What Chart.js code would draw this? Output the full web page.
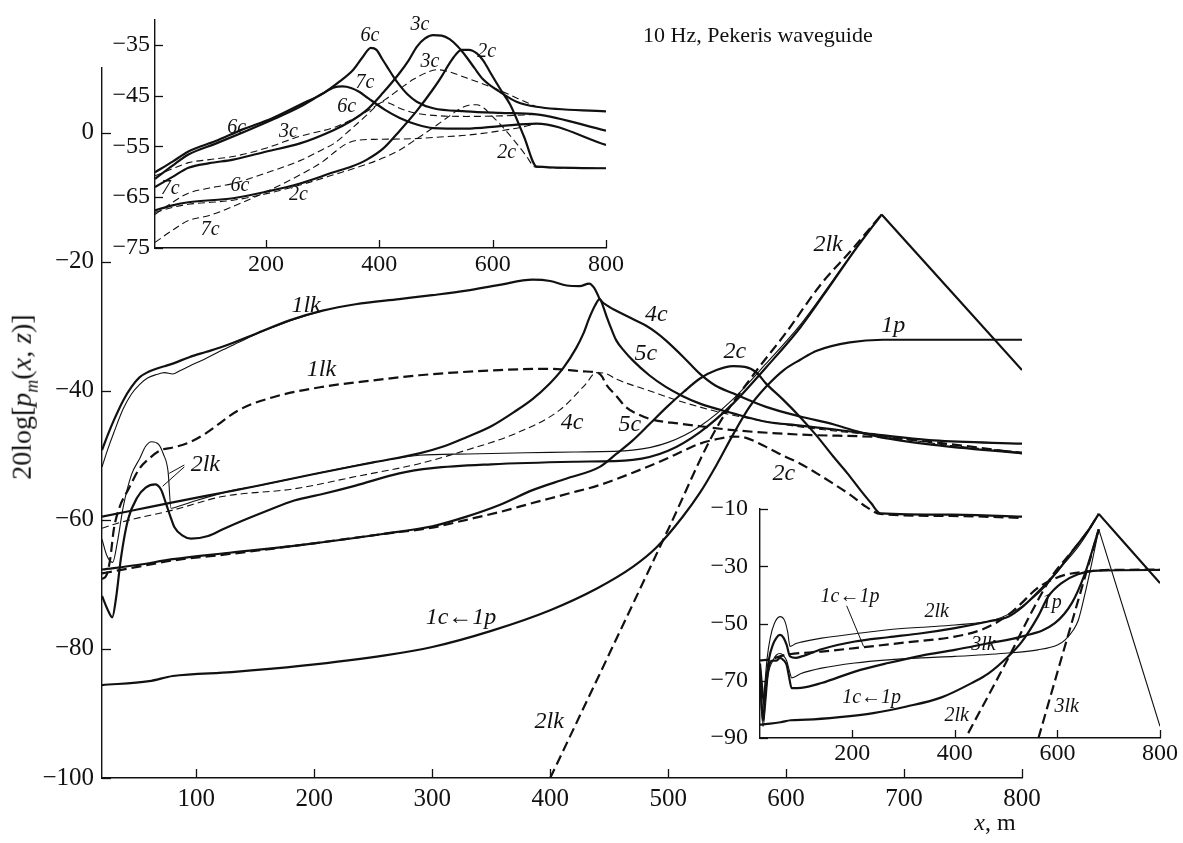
<!DOCTYPE html>
<html>
<head>
<meta charset="utf-8">
<script src="https://cdn.jsdelivr.net/npm/chart.js@4.4.1/dist/chart.umd.min.js"></script>
<style>
  body { margin: 0; background: #fff; width: 1183px; height: 843px; position: relative; overflow: hidden; font-family: "Liberation Serif", "DejaVu Serif", serif; }
  canvas { position: absolute; }
  #main { left: 0; top: 0; }
  #topInset { left: 0; top: 0; }
  #brInset { left: 700px; top: 480px; }
  .txt { position: absolute; color: #111; white-space: nowrap; line-height: 1; }
  #title { left: 643px; top: 24px; font-size: 22px; }
  #ylab { left: 24px; top: 397px; font-size: 28px; transform: translate(-50%, -50%) rotate(-90deg); }
  #ylab sub { font-size: 18px; }
  #xlab { left: 995px; top: 810px; font-size: 24px; transform: translateX(-50%); }
</style>
</head>
<body>
<canvas id="main" width="1183" height="843"></canvas>
<canvas id="topInset" width="640" height="290"></canvas>
<canvas id="brInset" width="483" height="300"></canvas>
<div class="txt" id="title">10 Hz, Pekeris waveguide</div>
<div class="txt" id="ylab">20log[<i>p<sub>m</sub></i>(<i>x</i>, <i>z</i>)]</div>
<div class="txt" id="xlab"><i>x</i>, m</div>
<script>
// ---- main plot: [x, dB] pairs ----
const mainXTicks = [100, 200, 300, 400, 500, 600, 700, 800];
const mainYTicks = [-100, -80, -60, -40, -20, 0];

const main1lk = [[20,-49.2],[25,-46.8],[30,-44.6],[38,-41.5],[45,-39.4],[52,-37.9],[59,-37.1],[66,-36.6],[73,-36.2],[80,-35.8],[94,-34.8],[108,-34],[122,-33.2],[150,-31.2],[179,-29.1],[207,-27.6],[235,-26.6],[272,-25.8],[300,-25.2],[329,-24.5],[357,-23.6],[385,-22.8],[400,-23],[414,-23.7],[425,-23.8],[433,-23.4],[437,-24],[440,-25],[442,-25.8],[450,-27],[456,-27.6],[470,-28.9],[481,-29.9],[490,-31],[498,-32.2],[513,-34.8],[527,-37.4],[540,-39.2],[555,-40.4],[583,-42.5],[612,-44],[640,-45.2],[660,-46.3],[680,-47.2],[725,-48.4],[800,-49.7]];
const main1lkThin = [[20,-51.8],[25,-49],[30,-46.5],[38,-42.8],[45,-40.5],[52,-39],[59,-38],[66,-37.5],[73,-37.2],[80,-37.4],[86,-36.9],[94,-36.2],[108,-35],[122,-33.7],[136,-32.5],[150,-31.3],[179,-29.2],[207,-27.6]];
const main5c = [[20,-59.5],[50,-58.4],[80,-57.3],[122,-55.8],[150,-54.8],[200,-52.9],[250,-51.1],[289,-49.7],[310,-48.6],[329,-47.2],[350,-45.5],[371,-43.1],[385,-41.3],[399,-39],[411,-36.5],[422,-33.4],[428,-31.2],[433,-28.8],[438,-26.8],[442,-25.8],[445,-27],[448,-28.6],[452,-30.5],[456,-32.2],[463,-33.9],[470,-35.3],[484,-37.6],[498,-39.4],[512,-40.8],[527,-42],[555,-43.5],[583,-44.8],[612,-45.4],[640,-46],[668,-46.6],[725,-47.7],[800,-48.2]];
const main2lkThin = [[20,-63],[24,-65.5],[29,-66.6],[33,-63.5],[38,-58],[45,-53],[52,-50.5],[57,-48.6],[62,-47.9],[68,-48.3],[72,-49.8],[76,-52.5],[78.5,-58.2],[85,-57.9],[100,-57],[132,-55.4],[150,-54.8],[200,-52.9],[250,-51.1],[289,-50],[330,-49.8],[380,-49.6],[420,-49.5],[470,-49.2],[500,-48],[527,-45.5],[555,-41.3],[583,-35.8],[612,-29.8],[640,-22.8],[660,-17.7],[681,-12.7]];
const main2lkThick = [[20,-71.8],[25,-74],[28.7,-75.1],[32,-72],[36,-66],[42,-60],[50,-56.5],[57,-55],[65,-54.5],[70,-55.3],[74.3,-57.5],[78,-59.5],[81.3,-61.1],[88,-62.4],[95.5,-62.9],[110,-62.5],[122,-61.5],[141,-60],[160,-58.6],[183,-57],[207,-56],[235,-54.7],[272,-52.8],[300,-52],[350,-51.4],[420,-51],[470,-50.7],[500,-49.3],[527,-46.4],[555,-42],[583,-36.4],[612,-30.2],[640,-23],[660,-17.8],[681,-12.7]];
const main2lkDown = [[681,-12.7],[800,-36.8]];
const main2c = [[20,-67.7],[50,-67],[80,-66.1],[128,-65.1],[193,-63.8],[258,-62.2],[300,-61],[329,-59.5],[357,-57.7],[385,-55.4],[414,-53.6],[442,-51.8],[456,-49.8],[470,-47.7],[484,-45.2],[499,-42.5],[513,-40.2],[527,-38.1],[541,-36.8],[555,-36.2],[565,-36.3],[575,-37.2],[583,-38.9],[597,-41.3],[612,-44.1],[626,-47],[640,-50.2],[652,-52.8],[663,-55.4],[672,-57.4],[680,-59],[740,-59.2],[800,-59.5]];
const main1c1p = [[20,-85.6],[60,-85],[80,-84.2],[130,-83.6],[190,-82.6],[260,-81],[300,-79.7],[350,-77.2],[400,-74],[440,-70.6],[470,-67.3],[490,-64.3],[512,-59.6],[527,-55.8],[541,-51.5],[555,-46.8],[569,-42.5],[583,-39.4],[598,-36.8],[612,-35.2],[626,-33.8],[654,-32.5],[682,-32.1],[800,-32.1]];
const main1lkDash = [[20,-69.2],[24,-68.5],[27,-66],[30,-61.5],[35,-58],[42,-55.4],[52,-52],[60,-50.5],[70,-49.2],[80,-48.8],[94,-48],[108,-46.6],[136,-43],[165,-41],[207,-39.4],[250,-38.4],[289,-37.6],[357,-36.8],[400,-36.6],[428,-37],[440,-37.2],[444,-37.8],[447,-38.9],[456,-40.8],[464,-42.5],[475,-43.7],[487,-44.5],[510,-45.1],[527,-45.5],[555,-46.1],[612,-46.8],[680,-47.2],[740,-48.3],[800,-49.7]];
const main2cDash = [[20,-68.3],[50,-67.3],[80,-66.3],[128,-65.3],[193,-63.8],[258,-62.2],[300,-61.2],[329,-60],[357,-58.8],[385,-57.4],[414,-56],[442,-54.6],[470,-52.7],[499,-50.5],[513,-49.3],[527,-48.2],[544,-47.4],[555,-47.1],[566,-47.3],[583,-48.7],[597,-50],[612,-51.3],[626,-52.8],[640,-54.4],[655,-56.2],[668,-58],[680,-59.1],[740,-59.4],[800,-59.7]];
const main2lkDash = [[400,-100],[450,-80.8],[500,-61.5],[540,-46.1],[572,-37.6],[600,-31],[630,-23.4],[655,-18.3],[681,-12.7]];
const main4cDash = [[20,-61.3],[37.5,-60.3],[80,-58.5],[122,-56.4],[183,-55.2],[235,-53.3],[289,-51.3],[329,-49.2],[371,-46.6],[408,-43],[430,-39],[439,-37.2],[448,-37.4],[456,-38.2],[484,-40],[513,-41.8],[555,-43.8],[612,-45.6],[680,-47],[740,-48.5],[800,-49.5]];

// ---- upper-left inset ----
const topXTicks = [200, 400, 600, 800];
const topYTicks = [-75, -65, -55, -45, -35];
const top6c = [[4,-60.1],[35,-58],[63,-56],[110,-54],[160,-51.6],[210,-49.5],[260,-46.8],[300,-44.6],[330,-42.2],[354,-39.9],[370,-37.5],[385,-35.6],[395,-36],[405,-37.8],[413,-39.2],[425,-41.3],[436,-43],[450,-44.8],[466,-46.2],[495,-47.5],[553,-48.1],[613,-48.4],[677,-48.7],[800,-51.9]];
const top7c = [[4,-61.4],[35,-58.8],[63,-56.6],[110,-54.5],[160,-52.2],[210,-49.8],[260,-47.2],[300,-44.6],[320,-43.4],[335,-43.2],[350,-43.5],[365,-44.3],[380,-45.5],[410,-47.8],[436,-49.4],[466,-50.7],[495,-51.4],[553,-51.5],[613,-51],[677,-50.5],[800,-54.7]];
const top3c = [[4,-63],[35,-61],[63,-59.2],[100,-58.3],[142,-57.6],[201,-56],[260,-54.4],[319,-51.8],[350,-50],[378,-47.8],[406,-44.5],[436,-40.5],[452,-38],[466,-35.4],[480,-33.8],[495,-33.1],[510,-33.2],[524,-33.9],[538,-35.3],[553,-37.3],[568,-39.6],[583,-41.8],[598,-43.2],[613,-44.3],[642,-46.2],[677,-47.2],[800,-48.1]];
const top2c = [[4,-67.6],[35,-66.6],[63,-66],[142,-65.2],[201,-63.9],[260,-62.3],[319,-60.1],[350,-59],[378,-57.6],[406,-55.5],[436,-51.9],[466,-48],[495,-43.7],[510,-41.2],[524,-38.6],[535,-36.9],[545,-36],[558,-36],[572,-36.7],[584,-38.2],[596,-40.5],[615,-44],[631,-46.8],[655,-53],[678,-59],[800,-59.3]];
const top3cDash = [[4,-60.8],[35,-59.4],[63,-58.2],[100,-57.6],[142,-57],[201,-55.3],[260,-53],[319,-51.3],[350,-49.8],[378,-48.1],[410,-45.8],[436,-43.7],[460,-41.8],[483,-40.5],[501,-39.9],[520,-40.2],[553,-41.5],[583,-42.7],[613,-44],[645,-45.6],[677,-47.2]];
const top6cDash = [[4,-68.4],[35,-66],[63,-64.2],[100,-63.2],[142,-62.3],[201,-60.2],[260,-57.8],[300,-55.6],[319,-54.5],[350,-51.6],[378,-48.8],[395,-47],[407,-46.2],[420,-46.6],[436,-47.5],[466,-48.5],[495,-48.9],[553,-49.1],[613,-49],[677,-48.7]];
const top7cDash = [[4,-73.9],[35,-71.5],[63,-69.6],[100,-68.6],[142,-66.8],[201,-63.9],[260,-60.6],[300,-58],[319,-56.3],[340,-54.6],[360,-53.8],[400,-53.6],[455,-53.5],[500,-53.2],[553,-52.8],[610,-52],[660,-51],[677,-50.5]];
const top2cDash = [[4,-68],[35,-67],[63,-66.4],[142,-65.6],[201,-64.3],[260,-62.6],[319,-60.6],[378,-58.5],[406,-57.3],[436,-55.7],[466,-53.5],[495,-51.3],[524,-49],[542,-47.6],[558,-46.9],[572,-46.8],[585,-47.5],[596,-48.7],[613,-50.6],[642,-54.4],[660,-57],[672,-58.9],[678,-59.1],[800,-59.3]];

// ---- lower-right inset ----
const brXTicks = [200, 400, 600, 800];
const brYTicks = [-90, -70, -50, -30, -10];
const br2lkThick = [[20,-64],[24,-72],[28,-78],[32,-70],[38,-62],[45,-57.5],[52,-55],[59,-54],[66,-55],[72,-57.5],[78.5,-61.5],[90,-62],[101,-61.5],[140,-59],[205,-56.3],[270,-54.8],[335,-53.4],[400,-51.6],[465,-49.3],[504,-47.6],[533,-44],[566,-38.3],[599,-31.9],[631,-24.3],[660,-17.5],[680.6,-11.7]];
const br2lkThin = [[20,-68],[25,-80],[29,-72],[34,-62],[40,-55],[48,-50],[59,-47.6],[68,-49],[74,-53],[78.5,-58],[90,-57],[100,-56.5],[140,-55.1],[205,-53.6],[270,-52.2],[335,-51.3],[400,-50.5],[478,-48.7],[530,-44.1],[576,-37.1],[608,-30.1],[640,-23.3],[660,-18],[680.6,-11.7]];
const br2lkDown = [[680.6,-11.7],[800,-35.9]];
const br1pDash = [[20,-62.9],[40,-62.5],[69,-61],[140,-59.8],[205,-58.6],[300,-56.7],[400,-54.6],[450,-52.3],[478,-50],[504,-47],[530,-42.9],[555,-38.5],[576,-35.9],[615,-33],[654,-31.9],[700,-31.3],[800,-31.2]];
const br3lkThick = [[20,-66],[23,-78],[26,-84],[30,-75],[36,-66],[44,-63],[52,-63],[59,-62],[66,-62.8],[72,-64.5],[76,-68],[81.8,-72.6],[100,-72.5],[140,-70.8],[205,-66.8],[270,-63.8],[335,-61.2],[400,-59.2],[465,-56.9],[530,-54.6],[595,-49.9],[628,-42.9],[654,-32.4],[668,-24.5],[680.6,-17.1]];
const br3lkThin = [[20,-72],[26,-86],[31,-78],[36,-68],[45,-63],[52,-61],[59,-60.5],[66,-61.3],[72,-63],[78,-67],[81.8,-69],[100,-67.5],[140,-65.6],[205,-63.8],[270,-62.7],[335,-62],[400,-61.5],[498,-60.4],[562,-59.2],[600,-57.5],[615,-55.7],[632,-52],[641,-48.7],[654,-39.4],[668,-28],[680.6,-17.1]];
const br3lkDown = [[680.6,-17.1],[800,-85.9]];
const br1c1p = [[20,-85.3],[40,-85],[60,-84.5],[80,-83.8],[111,-83.6],[175,-82.7],[241,-81.3],[306,-79],[374,-75.8],[436,-70.5],[465,-67.5],[504,-61.5],[530,-56.5],[562,-47.6],[582,-40.6],[608,-35.9],[640,-32.8],[680,-31.5],[800,-31.3]];
const br2lkDash = [[426,-88.3],[500,-63.5],[560,-42.5],[590,-33.3],[630,-24.5],[660,-17.5],[680.6,-11.7]];
const br3lkDash = [[563,-90],[600,-67],[640,-42.2],[680.6,-17.1]];

// curve labels, in data coordinates of each plot
const mainLabels = [
  {text: '1lk', x: 193, y: -26.9}, {text: '1lk', x: 206, y: -36.8},
  {text: '2lk', x: 107.6, y: -51.5, leaders: [[[89.8, -51.5], [77, -52.8]], [[89.8, -51.8], [71.4, -54.8]]]},
  {text: '4c', x: 490, y: -28.2}, {text: '5c', x: 481, y: -34.3},
  {text: '4c', x: 418.6, y: -45}, {text: '5c', x: 467.4, y: -45.3},
  {text: '2c', x: 556.5, y: -33.9}, {text: '2c', x: 598, y: -52.9},
  {text: '2lk', x: 635.6, y: -17.3}, {text: '1p', x: 690.8, y: -29.9},
  {text: '1c\u21901p', x: 324.4, y: -75.2}, {text: '2lk', x: 399.2, y: -91.3}
];
const topLabels = [
  {text: '6c', x: 383.5, y: -33.2}, {text: '3c', x: 471.8, y: -31}, {text: '3c', x: 489.4, y: -38.3},
  {text: '2c', x: 589.4, y: -36.4}, {text: '7c', x: 374.7, y: -42.4}, {text: '6c', x: 342.4, y: -47.2},
  {text: '6c', x: 148.2, y: -51.3}, {text: '3c', x: 239.4, y: -52.2}, {text: '2c', x: 624.7, y: -56.3},
  {text: '7c', x: 30.6, y: -63.3}, {text: '6c', x: 154, y: -62.7}, {text: '2c', x: 257, y: -64.6},
  {text: '7c', x: 101.2, y: -71.5}
];
const brLabels = [
  {text: '1c\u21901p', x: 195.4, y: -40.6, leaders: [[[189, -43.8], [222, -58]]]},
  {text: '2lk', x: 364.6, y: -45.8}, {text: '3lk', x: 455.6, y: -57.4}, {text: '1p', x: 589, y: -42.9},
  {text: '1c\u21901p', x: 237.7, y: -76}, {text: '2lk', x: 403.6, y: -82.4}, {text: '3lk', x: 618, y: -79}
];

const INK = '#111';

const curveLabels = {
  id: 'curveLabels',
  afterDatasetsDraw(chart, args, opts) {
    if (!opts.items) return;
    const {ctx, scales: {x, y}} = chart;
    ctx.save();
    ctx.fillStyle = INK;
    ctx.strokeStyle = INK;
    ctx.lineWidth = 1;
    ctx.font = 'italic ' + opts.size + 'px "Liberation Serif", "DejaVu Serif", serif';
    ctx.textAlign = 'center';
    ctx.textBaseline = 'middle';
    opts.items.forEach(it => {
      ctx.fillText(it.text, x.getPixelForValue(it.x), y.getPixelForValue(it.y));
      (it.leaders || []).forEach(l => {
        ctx.beginPath();
        ctx.moveTo(x.getPixelForValue(l[0][0]), y.getPixelForValue(l[0][1]));
        ctx.lineTo(x.getPixelForValue(l[1][0]), y.getPixelForValue(l[1][1]));
        ctx.stroke();
      });
    });
    ctx.restore();
  }
};

// tick marks pointing into the plot
const inwardTicks = {
  id: 'inwardTicks',
  afterDraw(chart, args, opts) {
    const {ctx, chartArea, scales: {x, y}} = chart;
    const len = opts.len || 8;
    ctx.save();
    ctx.strokeStyle = INK;
    ctx.lineWidth = 1.3;
    x.ticks.forEach(t => {
      const px = Math.round(x.getPixelForValue(t.value)) + 0.5;
      ctx.beginPath();
      ctx.moveTo(px, chartArea.bottom);
      ctx.lineTo(px, chartArea.bottom - len);
      ctx.stroke();
    });
    y.ticks.forEach(t => {
      const py = Math.round(y.getPixelForValue(t.value)) + 0.5;
      ctx.beginPath();
      ctx.moveTo(chartArea.left, py);
      ctx.lineTo(chartArea.left + len, py);
      ctx.stroke();
    });
    ctx.restore();
  }
};

Chart.register(curveLabels, inwardTicks);

function curve(points, thick, dashed) {
  return {
    data: points.map(p => ({x: p[0], y: p[1]})),
    borderColor: INK,
    borderWidth: thick ? 2.2 : 1.1,
    borderDash: dashed ? (thick ? [10, 5] : [7, 4]) : [],
    pointRadius: 0,
    fill: false,
    cubicInterpolationMode: 'monotone'
  };
}

const minus = v => String(v).replace('-', '\u2212');

function axis(min, max, ticks, size, fontSize, pad) {
  return {
    type: 'linear', min: min, max: max,
    afterBuildTicks: s => { s.ticks = ticks.map(v => ({value: v})); },
    afterFit: s => { if (s.isHorizontal()) s.height = size; else s.width = size; },
    grid: {display: false, drawTicks: false},
    border: {display: true, color: INK, width: 1.4},
    ticks: {color: INK, padding: pad, autoSkip: false, maxRotation: 0,
      font: {family: '"Liberation Serif", "DejaVu Serif", serif', size: fontSize}, callback: minus}
  };
}

function plot(id, datasets, o) {
  new Chart(document.getElementById(id), {
    type: 'line',
    data: {datasets: datasets},
    options: {
      responsive: false, animation: false, events: [],
      layout: {padding: o.padding},
      plugins: {legend: {display: false}, tooltip: {enabled: false},
        curveLabels: {items: o.labels, size: o.labelSize}, inwardTicks: {len: o.tickLen}},
      scales: {x: o.x, y: o.y}
    }
  });
}

plot('main', [
  curve(main1lk, true, false), curve(main1lkThin, false, false), curve(main5c, true, false),
  curve(main2lkThin, false, false), curve(main2lkThick, true, false), curve(main2lkDown, true, false),
  curve(main2c, true, false), curve(main1c1p, true, false),
  curve(main1lkDash, true, true), curve(main2cDash, true, true), curve(main2lkDash, true, true),
  curve(main4cDash, false, true)
], {
  padding: {left: 0, top: 68, right: 161, bottom: 0},
  x: axis(20, 800, mainXTicks, 65, 25, 6),
  y: axis(-100, 10, mainYTicks, 102, 25, 8),
  labels: mainLabels, labelSize: 24, tickLen: 9
});

plot('topInset', [
  curve(top6c, true, false), curve(top7c, true, false), curve(top3c, true, false), curve(top2c, true, false),
  curve(top3cDash, false, true), curve(top6cDash, false, true), curve(top7cDash, false, true), curve(top2cDash, false, true)
], {
  padding: {left: 0, top: 12, right: 34, bottom: 0},
  x: axis(4, 800, topXTicks, 42, 24, 2),
  y: axis(-75, -30, topYTicks, 155, 24, 5),
  labels: topLabels, labelSize: 20, tickLen: 8
});

plot('brInset', [
  curve(br2lkThick, true, false), curve(br2lkThin, false, false), curve(br2lkDown, true, false),
  curve(br3lkThick, true, false), curve(br3lkThin, false, false), curve(br3lkDown, false, false),
  curve(br1c1p, true, false), curve(br1pDash, true, true), curve(br2lkDash, true, true), curve(br3lkDash, true, true)
], {
  padding: {left: 0, top: 29, right: 23, bottom: 0},
  x: axis(20, 800, brXTicks, 42, 24, 1),
  y: axis(-90, -10, brYTicks, 60, 24, 12),
  labels: brLabels, labelSize: 20, tickLen: 8
});
</script>
</body>
</html>
